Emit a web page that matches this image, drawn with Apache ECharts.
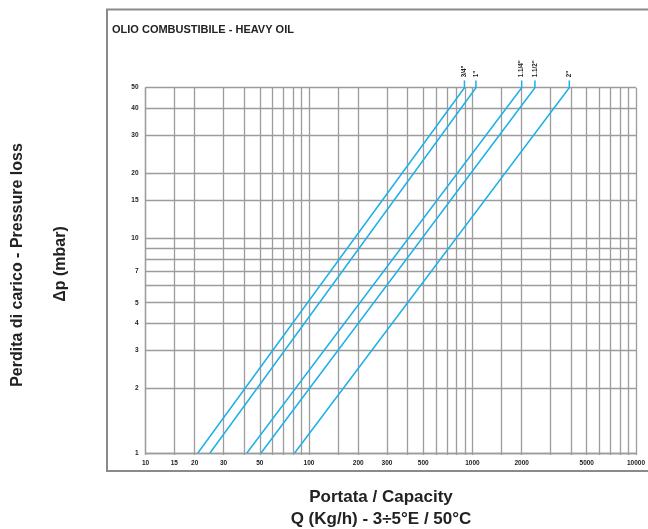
<!DOCTYPE html>
<html><head><meta charset="utf-8">
<script src="https://cdn.jsdelivr.net/npm/echarts@6/dist/echarts.min.js"></script>
<style>html,body{margin:0;padding:0;background:#fff}#c{width:648px;height:529px}</style>
</head><body><div id="c"></div>
<script>
// Pipe sizes and flow rates (kg/h) read at 1 mbar and 50 mbar
const sizes = ['3/4"', '1"', '1.1/4"', '1.1/2"', '2"'];
const flowAtMin = [20.9, 24.8, 41.7, 50.9, 81.7];
const flowAtMax = [893, 1050, 2000, 2410, 3910];
const dpMin = 1, dpMax = 50, dpLeader = 54;
const xGrid = [10,15,20,30,40,50,60,70,80,90,100,150,200,300,400,500,600,700,800,900,1000,1500,2000,3000,4000,5000,6000,7000,8000,9000,10000];
const xLabels = [10,15,20,30,50,100,200,300,500,1000,2000,5000,10000];
const yGrid = [1,2,3,4,5,6,7,8,9,10,15,20,30,40,50];
const yLabels = [1,2,3,4,5,7,10,15,20,30,40,50];

const FONT = '"Liberation Sans", Arial, Helvetica, sans-serif';
const gridColor = '#9c9c9c';
const lineColor = '#1eb0e8';

const chart = echarts.init(document.getElementById('c'));
chart.setOption({
  animation: false,
  backgroundColor: '#fff',
  grid: { left: 145.5, right: 9, top: 87.7, bottom: 76, containLabel: false },
  xAxis: {
    type: 'log', logBase: 10, min: 10, max: 10000,
    axisLine: { show: true, lineStyle: { color: gridColor, width: 1.3 } },
    axisTick: { show: true, length: 2, inside: false, customValues: xGrid, lineStyle: { color: gridColor, width: 1.3 } },
    axisLabel: { customValues: xLabels, margin: 7, fontSize: 6.5, fontWeight: 'bold', color: '#222', fontFamily: FONT,
                 formatter: v => String(Math.round(v)) },
    splitLine: { show: true, lineStyle: { color: gridColor, width: 1.3 } },
    minorTick: { show: false }, minorSplitLine: { show: false }
  },
  yAxis: {
    type: 'log', logBase: 10, min: 1, max: 50,
    axisLine: { show: true, lineStyle: { color: gridColor, width: 1.3 } },
    axisTick: { show: false, customValues: yGrid },
    axisLabel: { customValues: yLabels, margin: 7, fontSize: 6.5, fontWeight: 'bold', color: '#222', fontFamily: FONT,
                 formatter: v => String(Math.round(v)) },
    splitLine: { show: true, lineStyle: { color: gridColor, width: 1.3 } },
    minorTick: { show: false }, minorSplitLine: { show: false }
  },
  series: sizes.map((s, i) => ({
    type: 'line', name: s, clip: false, silent: true,
    symbol: 'circle', symbolSize: 0.5, showSymbol: true,
    itemStyle: { color: lineColor },
    lineStyle: { color: lineColor, width: 1.5 },
    data: [
      [flowAtMin[i], dpMin],
      [flowAtMax[i], dpMax],
      { value: [flowAtMax[i], dpLeader],
        label: { show: true, formatter: s, position: 'top', distance: 3, rotate: 90,
                 align: 'left', verticalAlign: 'middle',
                 fontSize: 6.3, fontWeight: 'bold', color: '#222', fontFamily: FONT } }
    ]
  })),
  graphic: [
    { type: 'rect', shape: { x: 107, y: 9.5, width: 600, height: 461.5 },
      style: { fill: 'none', stroke: '#8a8a8a', lineWidth: 2 }, silent: true },
    { type: 'text', x: 112, y: 30,
      style: { text: 'OLIO COMBUSTIBILE - HEAVY OIL', font: 'bold 11px ' + FONT, fill: '#222',
               textAlign: 'left', textVerticalAlign: 'middle', align: 'left', verticalAlign: 'middle' } },
    { type: 'text', x: 18, y: 265, rotation: Math.PI / 2,
      style: { text: 'Perdita di carico - Pressure loss', font: 'bold 16px ' + FONT, fill: '#222',
               textAlign: 'center', textVerticalAlign: 'middle', align: 'center', verticalAlign: 'middle' } },
    { type: 'text', x: 61, y: 264, rotation: Math.PI / 2,
      style: { text: 'Δp (mbar)', font: 'bold 16px ' + FONT, fill: '#222',
               textAlign: 'center', textVerticalAlign: 'middle', align: 'center', verticalAlign: 'middle' } },
    { type: 'text', x: 381, y: 497,
      style: { text: 'Portata / Capacity', font: 'bold 17px ' + FONT, fill: '#222',
               textAlign: 'center', textVerticalAlign: 'middle', align: 'center', verticalAlign: 'middle' } },
    { type: 'text', x: 381, y: 519,
      style: { text: 'Q (Kg/h) - 3÷5°E / 50°C', font: 'bold 17px ' + FONT, fill: '#222',
               textAlign: 'center', textVerticalAlign: 'middle', align: 'center', verticalAlign: 'middle' } }
  ]
});
</script>
</body></html>
